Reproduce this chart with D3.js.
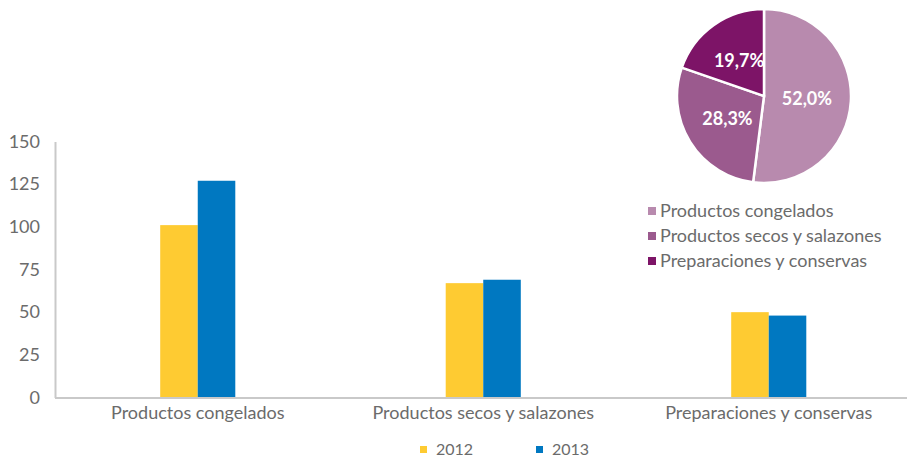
<!DOCTYPE html>
<html lang="es">
<head>
<meta charset="UTF-8">
<script src="https://d3js.org/d3.v7.min.js"></script>
<style>
  body { margin: 0; background: #fff; }
  text { font-family: 'Lato', sans-serif; fill: #6b6b6b; }
</style>
</head>
<body>
<div id="chart"></div>
<script>
// data
var categories = ["Productos congelados", "Productos secos y salazones", "Preparaciones y conservas"];
var years = ["2012", "2013"];
var values2012 = [101, 67, 50];
var values2013 = [127, 69, 48];
var yTicks = [0, 25, 50, 75, 100, 125, 150];
var pieShares = [52.0, 28.3, 19.7];
var pieLabels = ["52,0%", "28,3%", "19,7%"];

var barColors = ["#fecb32", "#0078c1"];
var pieColors = ["#b88aae", "#9b5a8e", "#7d1467"];

var svg = d3.select("#chart").append("svg")
  .attr("width", 907)
  .attr("height", 458);

var x = d3.scaleBand().domain(categories).range([55, 911.5])
  .paddingInner(0.737).paddingOuter(0.3685);
var xs = d3.scaleBand().domain(years).range([0, x.bandwidth()]);
var y = d3.scaleLinear().domain([0, 150]).range([397.5, 141.5]);

// y axis
var ya = svg.append("g")
  .attr("transform", "translate(55,0)")
  .call(d3.axisLeft(y).tickValues(yTicks).tickSize(0).tickPadding(15));
ya.select(".domain").attr("stroke", "#c9c9c9").attr("stroke-width", 2);
ya.selectAll("text").style("font-size", "18px").attr("fill", "#6b6b6b");

// bars
var rows = categories.map(function(c, i) { return { cat: c, vals: [values2012[i], values2013[i]] }; });
var grp = svg.selectAll(".grp").data(rows).enter().append("g")
  .attr("transform", function(d) { return "translate(" + x(d.cat) + ",0)"; });
grp.selectAll("rect").data(function(d) { return d.vals.map(function(v, j) { return { year: years[j], v: v, j: j }; }); })
  .enter().append("rect")
  .attr("x", function(d) { return xs(d.year); })
  .attr("y", function(d) { return y(d.v); })
  .attr("width", xs.bandwidth())
  .attr("height", function(d) { return y(0) - y(d.v); })
  .attr("fill", function(d) { return barColors[d.j]; });

// x axis
var xa = svg.append("g")
  .attr("transform", "translate(0,398)")
  .call(d3.axisBottom(x).tickSize(0).tickPadding(8).tickSizeOuter(0));
xa.select(".domain").attr("stroke", "#c9c9c9").attr("stroke-width", 2).attr("d", "M55,0H907");
xa.selectAll("text").style("font-size", "18px").attr("fill", "#6b6b6b");

// bar legend
var lg = svg.append("g");
[420, 536].forEach(function(lx, i) {
  lg.append("rect").attr("x", lx).attr("y", 446).attr("width", 7).attr("height", 7).attr("fill", barColors[i]);
  lg.append("text").attr("x", lx + 16).attr("y", 455).style("font-size", "16px").text(years[i]);
});

// pie
var pie = d3.pie().sort(null).value(function(d) { return d; });
var arc = d3.arc().innerRadius(0).outerRadius(87);
var labelArc = d3.arc().innerRadius(0).outerRadius(86);
var pg = svg.append("g").attr("transform", "translate(764,96)");
var arcs = pie(pieShares);
pg.selectAll("path").data(arcs).enter().append("path")
  .attr("d", arc)
  .attr("fill", function(d, i) { return pieColors[i]; })
  .attr("stroke", "#fff").attr("stroke-width", 2.5);
pg.selectAll(".pl").data(arcs).enter().append("text")
  .attr("transform", function(d) { var c = labelArc.centroid(d); return "translate(" + c[0] + "," + c[1] + ")"; })
  .attr("text-anchor", "middle").attr("dy", "0.35em")
  .style("font-size", "18px").style("font-weight", "bold").style("fill", "#fff")
  .text(function(d, i) { return pieLabels[i]; });

// pie legend
var pl = svg.append("g");
categories.forEach(function(c, i) {
  var ly = 211 + i * 25;
  pl.append("rect").attr("x", 648).attr("y", ly - 4).attr("width", 8).attr("height", 8).attr("fill", pieColors[i]);
  pl.append("text").attr("x", 660).attr("y", ly).attr("dy", "0.35em").style("font-size", "18px").text(c);
});
</script>
</body>
</html>
